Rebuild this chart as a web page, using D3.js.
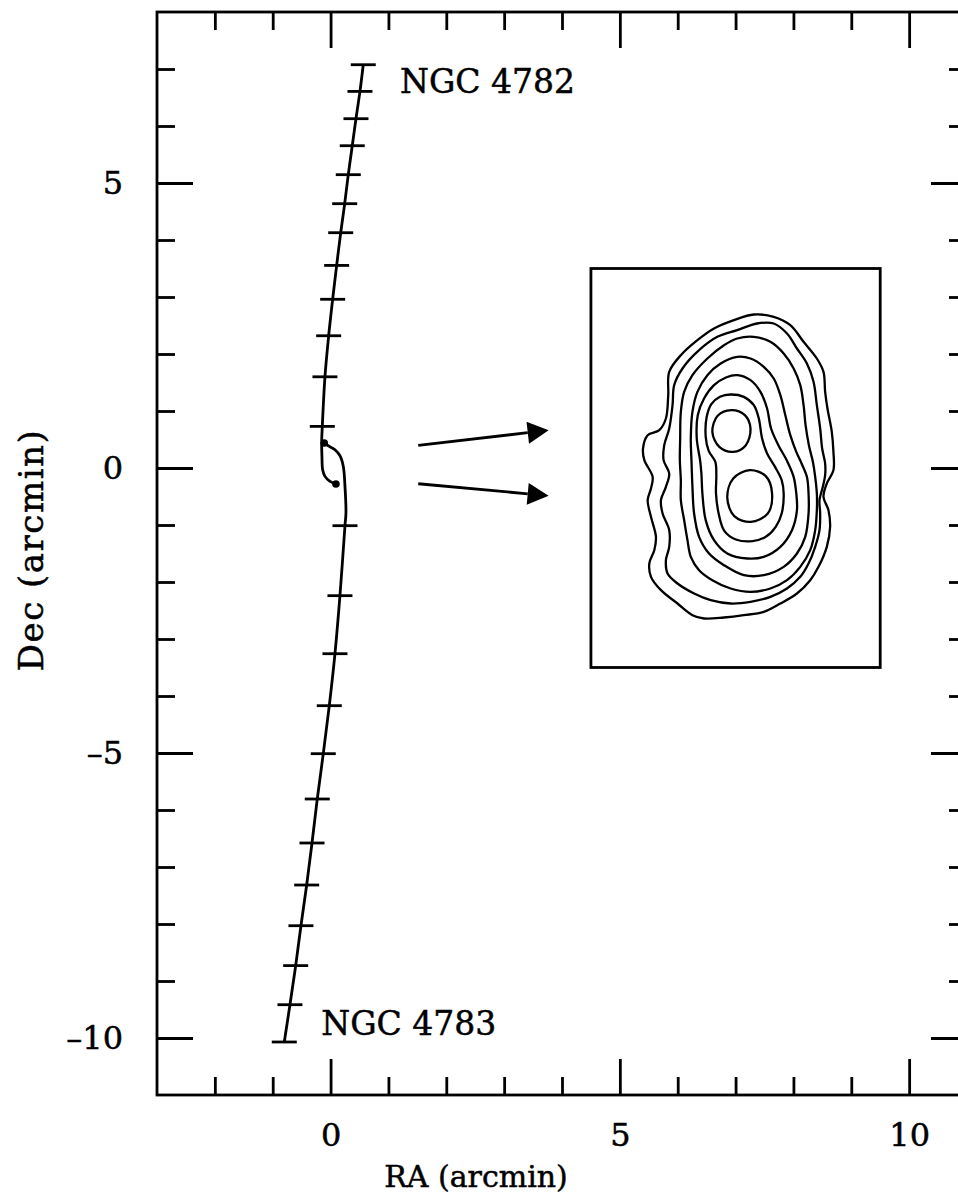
<!DOCTYPE html>
<html>
<head>
<meta charset="utf-8">
<style>
  body { margin: 0; background: #fff; }
  text { font-family: "DejaVu Serif", serif; fill: #000; stroke: #000; stroke-width: 0.5px; }
</style>
</head>
<body>
<svg id="svg" width="958" height="1196"></svg>
<script src="https://cdn.jsdelivr.net/npm/d3@7/dist/d3.min.js"></script>
<script>
// axis ranges and ticks (arcmin)
const raDomain = [-3, 11];
const decDomain = [-11, 8];
const raMajor = [0, 5, 10];
const decMajor = [-10, -5, 0, 5];
const raMinor = d3.range(-2, 11);
const decMinor = d3.range(-10, 8);

// NGC 4782 orbit, from its start down to the end point; the first 12 carry a time mark
const ra4782 = [0.565, 0.508, 0.439, 0.375, 0.306, 0.244, 0.175, 0.105, 0.036, -0.033, -0.097, -0.143,
                -0.154, -0.149, -0.137, -0.097, -0.010, 0.093];
const dec4782 = [7.075, 6.607, 6.128, 5.654, 5.146, 4.637, 4.128, 3.554, 2.96, 2.32, 1.60, 0.73,
                 0.439, 0.204, -0.03, -0.147, -0.235, -0.281];
// NGC 4783 orbit, from its start up to the end point
const ra4783 = [-0.800, -0.702, -0.603, -0.512, -0.413, -0.321, -0.230, -0.126, -0.022, 0.076, 0.162, 0.249,
                0.266, 0.249, 0.22, 0.162, 0.076, -0.04, -0.109];
const dec4783 = [-10.07, -9.416, -8.73, -8.03, -7.316, -6.579, -5.807, -5.012, -4.170, -3.258, -2.240, -1.012,
                 -0.789, -0.323, 0.028, 0.216, 0.321, 0.39, 0.439];
const nMarks = 12;

const labelText = ["NGC 4782", "NGC 4783"];
const labelRA = [1.2, -0.16];
const labelDec = [6.58, -9.94];

// arrows pointing to the inset
const arrowFromRA = [1.515, 1.515];
const arrowFromDec = [0.398, -0.276];
const arrowToRA = [3.769, 3.769];
const arrowToDec = [0.661, -0.487];

// inset box (arcmin) and its map grid
const insetRA = [4.5, 9.5];
const insetDec = [-3.5, 3.5];
const mapU = [33, 905];
const mapV = [25, 1222];

const contours = [
  [[524,163],[584,170],[634,195],[674,245],[714,295],[734,335],[739,395],[746,445],[759,515],[764,575],[764,630],[744,670],[734,710],[749,750],[754,800],[744,860],[719,920],[694,960],[654,1000],[604,1030],[554,1055],[494,1065],[434,1072],[374,1075],[339,1065],[294,1030],[244,990],[214,950],[209,910],[224,870],[229,830],[214,770],[204,720],[214,685],[219,650],[194,600],[190,565],[204,525],[239,510],[259,475],[266,405],[269,335],[304,285],[354,240],[404,205],[464,180]],
  [[534,190],[584,190],[624,220],[654,265],[684,310],[704,365],[714,435],[724,505],[730,565],[739,610],[739,645],[732,680],[722,720],[724,760],[722,810],[709,860],[689,910],[664,950],[624,985],[574,1010],[514,1025],[454,1030],[394,1020],[344,1000],[294,970],[264,940],[259,900],[269,860],[269,810],[249,760],[244,720],[259,680],[269,640],[252,600],[254,555],[269,505],[279,435],[284,375],[309,325],[359,270],[414,230],[474,210]],
  [[524,230],[574,245],[614,280],[644,325],[664,375],[674,435],[680,495],[690,555],[702,605],[709,650],[714,700],[714,750],[709,810],[694,870],[664,920],[624,960],[574,985],[514,995],[454,985],[399,960],[359,930],[334,890],[324,840],[314,780],[304,720],[304,660],[301,600],[302,535],[304,455],[314,395],[339,345],[384,295],[434,255],[474,235]],
  [[474,290],[514,295],[554,320],[584,355],[604,405],[619,465],[634,525],[652,575],[668,610],[684,650],[689,700],[689,760],[679,830],[654,880],[614,920],[554,945],[494,945],[434,915],[389,880],[359,830],[344,760],[339,680],[336,600],[334,535],[339,455],[354,395],[384,345],[424,310]],
  [[474,345],[514,360],[544,395],[564,445],[576,505],[598,555],[624,602],[644,650],[652,700],[654,750],[639,810],[604,860],[554,890],[504,895],[444,880],[404,840],[379,780],[369,700],[366,640],[362,600],[352,535],[355,465],[374,415],[404,375],[440,352]],
  [[454,403],[494,410],[524,435],[539,475],[549,535],[564,580],[588,620],[608,660],[614,700],[608,760],[590,800],[560,830],[520,843],[470,838],[435,812],[418,760],[410,700],[411,645],[408,605],[388,572],[379,530],[382,470],[396,432],[422,410]],
  [[456,450],[497,465],[514,505],[500,555],[462,575],[420,560],[399,515],[415,467]],
  [[512,630],[560,648],[579,700],[566,760],[515,785],[465,768],[444,712],[462,655]]
];

const svg = d3.select("#svg");
const x = d3.scaleLinear().domain(raDomain).range([157, 967]);
const y = d3.scaleLinear().domain(decDomain).range([1095, 12]);
const mx = d3.scaleLinear().domain(mapU).range(insetRA);
const my = d3.scaleLinear().domain(mapV).range([insetDec[1], insetDec[0]]);
const lw = 2.8;

// frame
svg.append("rect")
  .attr("x", x(raDomain[0])).attr("y", y(decDomain[1]))
  .attr("width", x(raDomain[1]) - x(raDomain[0]))
  .attr("height", y(decDomain[0]) - y(decDomain[1]))
  .attr("fill", "none").attr("stroke", "#000").attr("stroke-width", lw);

const fmt = d => d < 0 ? "\u2013" + Math.abs(d) : String(d);
function ticks(axis, tr, vals, len, withLabels, pad) {
  let g = svg.append("g").attr("transform", tr)
    .call(axis.tickValues(vals).tickSize(-len).tickSizeOuter(0).tickPadding(pad || 3)
      .tickFormat(withLabels ? fmt : ""));
  g.select(".domain").remove();
  g.selectAll(".tick line").attr("stroke", "#000").attr("stroke-width", lw);
  g.selectAll("text").style("font-family", "DejaVu Serif, serif").attr("font-size", 32).attr("fill", "#000");
  return g;
}
const atBottom = "translate(0," + y(decDomain[0]) + ")";
const atTop = "translate(0," + y(decDomain[1]) + ")";
const atLeft = "translate(" + x(raDomain[0]) + ",0)";
const atRight = "translate(" + x(raDomain[1]) + ",0)";
const raMinorOnly = raMinor.filter(v => !raMajor.includes(v));
const decMinorOnly = decMinor.filter(v => !decMajor.includes(v));
ticks(d3.axisBottom(x), atBottom, raMinorOnly, 18, false);
ticks(d3.axisBottom(x), atBottom, raMajor, 36, true, 28);
ticks(d3.axisTop(x), atTop, raMinorOnly, 18, false);
ticks(d3.axisTop(x), atTop, raMajor, 36, false);
ticks(d3.axisLeft(y), atLeft, decMinorOnly, 18, false);
ticks(d3.axisLeft(y), atLeft, decMajor, 36, true, 34);
ticks(d3.axisRight(y), atRight, decMinorOnly, 18, false);
ticks(d3.axisRight(y), atRight, decMajor, 36, false);

// axis titles
svg.append("text").attr("x", 476).attr("y", 1187)
  .attr("text-anchor", "middle").attr("font-size", 30).text("RA (arcmin)");
svg.append("text").attr("transform", "translate(43,550) rotate(-90)")
  .attr("text-anchor", "middle").attr("font-size", 34).attr("letter-spacing", 1.5).text("Dec (arcmin)");

// orbits
const line = d3.line().x(d => x(d[0])).y(d => y(d[1])).curve(d3.curveCatmullRom.alpha(0.5));
[[ra4782, dec4782], [ra4783, dec4783]].forEach(function (t) {
  let pts = t[0].map((v, i) => [v, t[1][i]]);
  svg.append("path").attr("d", line(pts))
    .attr("fill", "none").attr("stroke", "#000").attr("stroke-width", lw);
  svg.selectAll(null).data(pts.slice(0, nMarks)).enter().append("line")
    .attr("x1", d => x(d[0]) - 12.5).attr("x2", d => x(d[0]) + 12.5)
    .attr("y1", d => y(d[1])).attr("y2", d => y(d[1]))
    .attr("stroke", "#000").attr("stroke-width", lw);
  let end = pts[pts.length - 1];
  svg.append("circle").attr("cx", x(end[0])).attr("cy", y(end[1])).attr("r", 3.8).attr("fill", "#000");
});

svg.selectAll(null).data(labelText).enter().append("text")
  .attr("x", (d, i) => x(labelRA[i])).attr("y", (d, i) => y(labelDec[i]))
  .attr("font-size", 33).text(d => d);

// arrows
arrowFromRA.forEach(function (v, i) {
  let x0 = x(v), y0 = y(arrowFromDec[i]), x1 = x(arrowToRA[i]), y1 = y(arrowToDec[i]);
  let a = Math.atan2(y1 - y0, x1 - x0), L = 21, W = 11;
  let bx = x1 - L * Math.cos(a), by = y1 - L * Math.sin(a);
  svg.append("line").attr("x1", x0).attr("y1", y0).attr("x2", bx).attr("y2", by)
    .attr("stroke", "#000").attr("stroke-width", lw);
  svg.append("polygon")
    .attr("points", [[x1, y1], [bx + W * Math.sin(a), by - W * Math.cos(a)], [bx - W * Math.sin(a), by + W * Math.cos(a)]].join(" "))
    .attr("fill", "#000");
});

// inset map
svg.append("rect")
  .attr("x", x(insetRA[0])).attr("y", y(insetDec[1]))
  .attr("width", x(insetRA[1]) - x(insetRA[0]))
  .attr("height", y(insetDec[0]) - y(insetDec[1]))
  .attr("fill", "none").attr("stroke", "#000").attr("stroke-width", lw);
const cline = d3.line().x(d => x(mx(d[0]))).y(d => y(my(d[1]))).curve(d3.curveCatmullRomClosed.alpha(0.5));
svg.selectAll(".contour").data(contours).enter().append("path")
  .attr("class", "contour").attr("d", cline)
  .attr("fill", "none").attr("stroke", "#000").attr("stroke-width", 2.3);
</script>
</body>
</html>
